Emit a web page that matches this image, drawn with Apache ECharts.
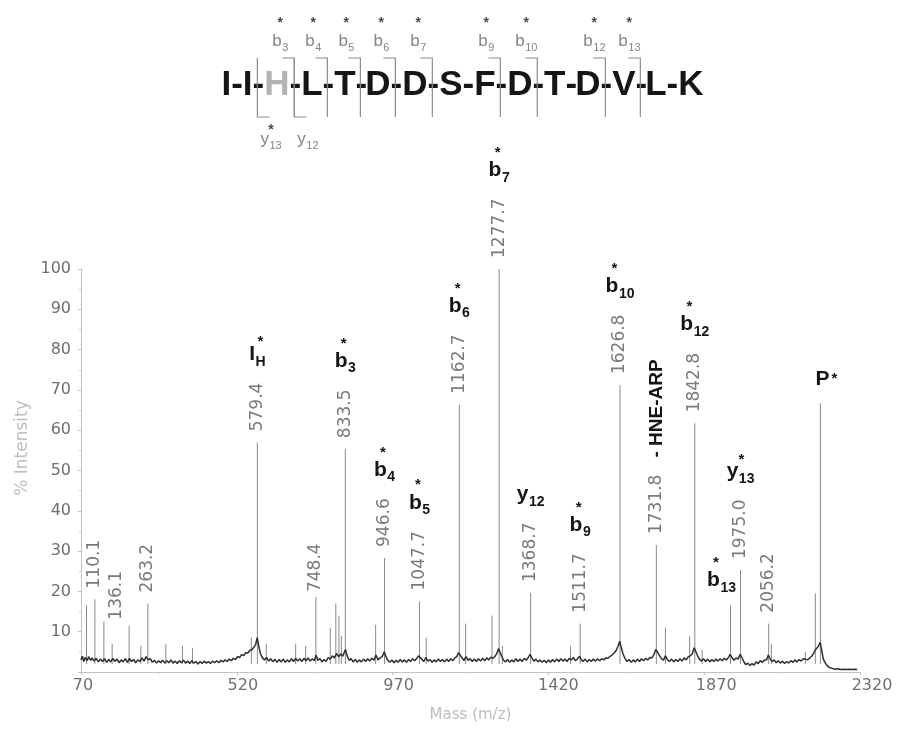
<!DOCTYPE html>
<html>
<head>
<meta charset="utf-8">
<script src="https://cdn.jsdelivr.net/npm/echarts@6/dist/echarts.min.js"></script>
<style>
html,body{margin:0;padding:0;background:#ffffff;}
#chart{width:899px;height:730px;}
</style>
</head>
<body>
<div id="chart"></div>
<script>
// ---------------- data ----------------
const massTicks = [70, 520, 970, 1420, 1870, 2320];
const intensityTicks = [0, 10, 20, 30, 40, 50, 60, 70, 80, 90, 100];

// peptide sequence and observed fragment ions
const sequence = ['I','I','H','L','T','D','D','S','F','D','T','D','V','L','K'];
const modifiedResidue = 3;            // H (HNE-modified), shown in grey
const bIonSites = [3, 4, 5, 6, 7, 9, 10, 12, 13];
const yIonSites = [13, 12];
const yIonModified = [true, false];

// baseline / noise trace [m/z, % intensity]
const baselineTrace = [
[70,3.0],[74,3.9],[78,2.6],[82,3.6],[88,2.8],[92,3.8],[98,2.9],[102,3.5],[108,2.7],[114,3.4],
[120,2.5],[126,3.2],[132,2.6],[138,3.3],[144,2.4],[150,3.1],[156,2.5],[162,3.4],[168,2.6],[174,3.2],
[180,2.3],[186,3.0],[192,2.5],[198,3.3],[204,2.4],[210,3.4],[216,2.6],[222,3.1],[228,2.3],[234,3.0],
[240,2.6],[246,3.5],[252,2.7],[258,3.8],[264,3.0],[270,3.3],[276,2.4],[282,2.9],[288,2.2],[294,2.8],
[300,2.3],[306,2.9],[312,2.2],[318,2.8],[324,2.3],[330,3.0],[336,2.2],[342,2.7],[348,2.1],[354,2.8],
[360,2.3],[366,2.9],[372,2.2],[378,2.7],[384,2.1],[390,2.8],[396,2.2],[402,2.6],[408,2.0],[414,2.6],
[420,2.1],[426,2.7],[432,2.2],[438,2.6],[444,2.1],[450,2.7],[456,2.3],[462,2.8],[468,2.3],[474,2.9],
[480,2.5],[486,3.0],[492,2.6],[498,3.2],[504,2.8],[510,3.4],[516,3.1],[522,3.8],[528,3.6],[534,4.3],
[540,4.1],[546,4.8],[552,4.7],[558,5.4],[564,5.6],[570,6.2],[575,7.0],[579,8.5],[583,6.6],[588,4.6],
[594,3.5],[600,3.0],[606,3.6],[612,2.7],[618,3.3],[624,2.5],[630,3.2],[636,2.4],[642,3.1],[648,2.5],
[654,3.2],[660,2.4],[666,3.0],[672,2.5],[678,3.3],[684,2.6],[690,3.4],[696,2.7],[702,3.3],[708,2.6],
[714,3.4],[720,2.8],[726,3.5],[732,2.7],[738,3.3],[744,2.8],[749,4.2],[754,2.9],[760,3.3],[766,2.5],
[772,3.1],[778,2.6],[784,3.6],[790,3.2],[796,4.0],[802,3.5],[808,4.6],[814,3.8],[820,4.5],[826,3.9],
[830,4.8],[834,5.6],[838,4.2],[844,2.9],[850,3.3],[856,2.5],[862,3.1],[868,2.4],[874,3.0],[880,2.5],
[886,3.2],[892,2.6],[898,3.3],[904,2.7],[910,3.4],[916,2.9],[922,4.2],[928,3.0],[934,3.5],[940,3.8],
[946,5.0],[950,4.0],[956,2.9],[962,2.4],[968,3.0],[974,2.3],[980,2.9],[986,2.4],[992,3.1],[998,2.5],
[1004,3.0],[1010,2.4],[1016,3.1],[1022,2.6],[1028,3.3],[1034,2.8],[1040,3.4],[1045,4.0],[1049,4.4],[1054,3.2],
[1060,2.6],[1066,3.6],[1072,2.7],[1078,3.1],[1084,2.4],[1090,3.0],[1096,2.5],[1102,3.2],[1108,2.6],[1114,3.1],
[1120,2.5],[1126,3.2],[1132,2.6],[1138,3.3],[1144,2.8],[1150,3.5],[1156,3.9],[1160,4.8],[1165,5.0],[1170,3.6],
[1176,2.8],[1182,3.8],[1188,2.9],[1194,3.3],[1200,2.6],[1206,3.2],[1212,2.6],[1218,3.3],[1224,2.7],[1230,3.4],
[1236,2.8],[1242,3.5],[1248,3.0],[1254,3.7],[1260,3.4],[1266,3.9],[1271,4.6],[1276,5.8],[1280,5.4],[1285,3.9],
[1290,3.0],[1296,2.5],[1302,3.1],[1308,2.4],[1314,3.0],[1320,2.5],[1326,3.3],[1332,2.6],[1338,3.2],[1344,2.6],
[1350,3.4],[1356,2.9],[1362,3.6],[1367,4.4],[1372,3.5],[1378,2.7],[1384,3.2],[1390,2.5],[1396,3.0],[1402,2.4],
[1408,2.9],[1414,2.3],[1420,3.0],[1426,2.4],[1432,3.1],[1438,2.5],[1444,3.2],[1450,2.6],[1456,3.3],[1462,2.7],
[1468,3.2],[1474,2.6],[1480,3.4],[1486,3.0],[1492,3.6],[1498,2.8],[1504,3.3],[1510,3.9],[1515,3.1],[1520,2.6],
[1526,3.2],[1532,2.5],[1538,3.1],[1544,2.6],[1550,3.2],[1556,2.7],[1562,3.3],[1568,2.8],[1574,3.3],[1580,3.0],
[1586,3.5],[1592,3.4],[1598,3.9],[1604,4.2],[1610,4.7],[1616,5.4],[1621,6.4],[1626,7.6],[1630,6.2],[1635,4.6],
[1641,3.4],[1647,2.6],[1653,3.1],[1659,2.4],[1665,3.0],[1671,2.5],[1677,3.2],[1683,2.6],[1689,3.3],[1695,2.8],
[1701,3.4],[1707,3.0],[1713,3.6],[1719,3.5],[1725,4.4],[1730,5.6],[1735,5.0],[1740,4.2],[1746,3.4],[1752,2.9],
[1758,4.0],[1764,3.0],[1770,2.6],[1776,3.2],[1782,2.5],[1788,3.1],[1794,2.6],[1800,3.3],[1806,2.7],[1812,3.5],
[1818,3.0],[1824,3.8],[1830,4.0],[1836,4.6],[1841,6.0],[1845,5.8],[1850,4.2],[1856,3.2],[1862,2.7],[1868,3.3],
[1874,2.6],[1880,3.2],[1886,2.5],[1892,3.1],[1898,2.6],[1904,3.2],[1910,2.7],[1916,3.3],[1922,2.8],[1928,3.4],
[1934,3.0],[1940,3.6],[1945,4.4],[1950,3.6],[1956,2.9],[1962,3.5],[1968,3.2],[1974,4.4],[1979,3.6],[1984,2.6],
[1990,1.8],[1996,2.2],[2002,1.6],[2008,2.1],[2014,1.7],[2020,2.5],[2026,2.1],[2032,2.8],[2038,2.4],[2044,3.0],
[2050,3.0],[2055,4.2],[2060,3.4],[2066,2.6],[2072,3.0],[2078,2.3],[2084,2.8],[2090,2.2],[2096,2.7],[2102,2.1],
[2108,2.6],[2114,2.2],[2120,2.8],[2126,2.4],[2132,3.0],[2138,2.5],[2144,3.1],[2150,2.7],[2156,3.3],[2162,3.2],
[2168,3.0],[2174,3.4],[2180,3.9],[2186,4.6],[2190,5.4],[2195,5.8],[2200,6.4],[2205,7.4],[2209,5.6],[2214,3.2],
[2220,2.2],[2226,1.5],[2232,1.1],[2240,0.9],[2248,0.7],[2256,0.8],[2264,0.6],[2272,0.7],[2280,0.6],[2288,0.7],
[2296,0.6],[2304,0.7],[2312,0.6]
];

// peak centroids
const peakMass = [86, 110.1, 136.1, 160, 209, 243, 263.2, 315, 363, 392, 562, 579.4, 605, 690, 719, 748.4,
  790, 806, 815, 822, 833.5, 921, 946.6, 1047.7, 1067, 1162.7, 1181, 1257, 1277.7, 1287, 1368.7, 1484,
  1511.7, 1626.8, 1731.8, 1758, 1828, 1842.8, 1864, 1946, 1975.0, 2056.2, 2064, 2162, 2191, 2205.7];
const peakIntensity = [16.5, 18, 12.5, 7, 11.5, 6.5, 17, 7, 6.5, 6, 8.5, 57, 7, 7, 6.5, 18.6,
  11, 17, 14, 9, 55.3, 11.7, 28.3, 17.5, 8.5, 66.3, 12, 14, 100, 6.5, 19.6, 6.5,
  12, 71.2, 31.5, 11, 9, 61.7, 5.5, 16.5, 25.3, 12, 7, 5, 19.5, 66.7];

// m/z labels printed on peaks
const labelMass = [110.1, 136.1, 263.2, 579.4, 748.4, 833.5, 946.6, 1047.7, 1162.7, 1277.7,
  1368.7, 1511.7, 1626.8, 1731.8, 1842.8, 1975.0, 2056.2];
const labelNote = { 1731.8: 'HNE-ARP' };

// ion assignments
const ionMass = [579.4, 833.5, 946.6, 1047.7, 1162.7, 1277.7, 1368.7, 1511.7, 1626.8, 1842.8, 1946, 1975.0, 2205.7];
const ionMain = ['I', 'b', 'b', 'b', 'b', 'b', 'y', 'b', 'b', 'b', 'b', 'y', 'P'];
const ionSub  = ['H', '3', '4', '5', '6', '7', '12', '9', '10', '12', '13', '13', ''];
const ionStar = [true, true, true, true, true, true, false, true, true, true, true, true, true];

// ---------------- layout helpers (not data) ----------------
const labelLayout = { 136.1: { dx: 13, gap: 2 }, 748.4: { gap: 5 } };
const ionLayout = { 1946: { dx: -9, gap: 18 }, 2205.7: { dx: 2, gap: 17 } };

const SANS = '"DejaVu Sans", sans-serif';
const ARIAL = '"Liberation Sans", Arial, sans-serif';
const measureCtx = document.createElement('canvas').getContext('2d');
function tw(str, font) { measureCtx.font = font; return measureCtx.measureText(str).width; }
const MID = 0.3465; // canvas 'middle' offset above alphabetic baseline, in em

function textEl(x, baseline, str, size, font, fill, align) {
  return { type: 'text', x: x, y: baseline - MID * size, silent: true,
    style: { text: str, font: font, fill: fill, align: align || 'left', textAlign: align || 'left',
             verticalAlign: 'middle', textVerticalAlign: 'middle' } };
}
function starEl(xc, yc, size, fill) {
  const base = yc + 0.57 * size;
  return textEl(xc, base, '*', size, 'bold ' + size + 'px ' + ARIAL, fill, 'center');
}
function findIdx(arr, m) { for (let i = 0; i < arr.length; i++) if (Math.abs(arr[i] - m) < 0.05) return i; return -1; }

const MASS_FS = 17, MASS_FONT = MASS_FS + 'px ' + SANS;
const ION_FS = 21, ION_FONT = 'bold ' + ION_FS + 'px ' + ARIAL;
const SUB_FS = 14, SUB_FONT = 'bold ' + SUB_FS + 'px ' + ARIAL;

function ionChildren(k, cx, B) {
  const els = [];
  const main = ionMain[k], sub = ionSub[k];
  if (main === 'P') {
    const w = tw('P', ION_FONT);
    els.push(textEl(cx - w / 2, B, 'P', ION_FS, ION_FONT, '#151515', 'left'));
    if (ionStar[k]) els.push(starEl(cx + w / 2 + 5, B - 11, 15, '#151515'));
    return els;
  }
  const wm = tw(main, ION_FONT), ws = tw(sub, SUB_FONT);
  const left = cx - (wm + ws + 0.5) / 2;
  els.push(textEl(left, B, main, ION_FS, ION_FONT, '#151515', 'left'));
  els.push(textEl(left + wm + 0.5, B + 5, sub, SUB_FS, SUB_FONT, '#151515', 'left'));
  if (ionStar[k]) {
    let sx, sy;
    if (main === 'b') { sx = left + wm * 0.7; sy = B - 28; }
    else if (main === 'I') { sx = left + wm + 0.5 + ws / 2; sy = B - 23; }
    else { sx = left + wm + 3; sy = B - 22; }
    els.push(starEl(sx, sy, 15, '#151515'));
  }
  return els;
}

// ---------------- series data built from the arrays ----------------
const baselineData = baselineTrace.map(p => [p[0], p[1]]);
const stickData = peakMass.map((m, i) => [m, peakIntensity[i]]);
const annotMasses = Array.from(new Set(labelMass.concat(ionMass))).sort((a, b) => a - b);
const annotData = annotMasses.map(m => [m, peakIntensity[findIdx(peakMass, m)]]);

const STICK_BASE = 2;

function renderStick(params, api) {
  const top = api.coord([api.value(0), api.value(1)]);
  const base = api.coord([api.value(0), STICK_BASE]);
  return { type: 'line', silent: true,
    shape: { x1: top[0], y1: base[1], x2: top[0], y2: top[1] },
    style: { stroke: '#8a8a8a', lineWidth: 1 } };
}

function renderAnnot(params, api) {
  const m = api.value(0), h = api.value(1);
  const p = api.coord([m, h]);
  const children = [];
  const li = findIdx(labelMass, m);
  let topY = p[1];
  let hasLabel = false;
  if (li >= 0) {
    hasLabel = true;
    const lay = labelLayout[labelMass[li]] || {};
    const gap = lay.gap != null ? lay.gap : 11;
    const x = p[0] + (lay.dx || 0);
    const y0 = p[1] - gap;
    const txt = labelMass[li].toFixed(1);
    const L1 = tw(txt, MASS_FONT);
    children.push({ type: 'text', x: x, y: y0, rotation: Math.PI / 2, silent: true,
      style: { text: txt, font: MASS_FONT, fill: '#7a7a7a', align: 'left', textAlign: 'left',
               verticalAlign: 'middle', textVerticalAlign: 'middle' } });
    topY = y0 - L1;
    const note = labelNote[labelMass[li]];
    if (note) {
      const nf = 'bold 19px ' + ARIAL;
      children.push({ type: 'text', x: x, y: y0 - L1 - 17, rotation: Math.PI / 2, silent: true,
        style: { text: '- ' + note, font: nf, fill: '#151515', align: 'left', textAlign: 'left',
                 verticalAlign: 'middle', textVerticalAlign: 'middle' } });
      topY = y0 - L1 - 17 - tw('- ' + note, nf);
    }
  }
  const ki = findIdx(ionMass, m);
  if (ki >= 0) {
    const lay = ionLayout[ionMass[ki]] || {};
    const cx = p[0] + (lay.dx || 0);
    let B;
    if (hasLabel) B = topY - 21;
    else B = p[1] - (lay.gap != null ? lay.gap : 18);
    ionChildren(ki, cx, B).forEach(c => children.push(c));
  }
  return { type: 'group', children: children };
}

// ---------------- peptide map (graphic) ----------------
const graphics = [];
const SEQ_FS = 35, SEQ_FONT = 'bold ' + SEQ_FS + 'px ' + ARIAL;
const seqStr = sequence.join('-');
const seqW = tw(seqStr, SEQ_FONT);
const seqX0 = 462.5 - seqW / 2;
const SEQ_BASE = 97;
for (let i = 0; i < seqStr.length; i++) {
  const x = seqX0 + tw(seqStr.slice(0, i), SEQ_FONT);
  const isMod = (i === 2 * (modifiedResidue - 1));
  graphics.push(textEl(x, SEQ_BASE, seqStr[i], SEQ_FS, SEQ_FONT, isMod ? '#b3b3b3' : '#161616', 'left'));
}
function cutX(k) { // x of the cleavage after residue k (1-based)
  const idx = 2 * k - 1;
  return seqX0 + tw(seqStr.slice(0, idx), SEQ_FONT) + tw('-', SEQ_FONT) / 2 - 1;
}
const BR_TOP = 58, BR_BOT = 117, BR_ARM = 12;
const brStyle = { stroke: '#8c8c8c', lineWidth: 1.2, fill: null };
const SMALL_FONT = '17px ' + ARIAL, SMALL_SUB = '11px ' + ARIAL;
bIonSites.forEach(k => {
  const v = cutX(k);
  graphics.push({ type: 'polyline', silent: true, shape: { points: [[v - BR_ARM, BR_TOP], [v, BR_TOP], [v, BR_BOT]] }, style: brStyle });
  const left = v - 22;
  const wb = tw('b', SMALL_FONT), wsub = tw(String(k), SMALL_SUB);
  graphics.push(textEl(left, 47, 'b', 17, SMALL_FONT, '#868686', 'left'));
  graphics.push(textEl(left + wb + 0.5, 52, String(k), 11, SMALL_SUB, '#868686', 'left'));
  graphics.push(starEl(left + (wb + wsub) / 2, 20, 14, '#4a4a4a'));
});
yIonSites.forEach((n, j) => {
  const v = cutX(sequence.length - n);
  graphics.push({ type: 'polyline', silent: true, shape: { points: [[v, BR_TOP], [v, BR_BOT], [v + BR_ARM, BR_BOT]] }, style: brStyle });
  const left = v + 3;
  const wy = tw('y', SMALL_FONT);
  graphics.push(textEl(left, 145, 'y', 17, SMALL_FONT, '#868686', 'left'));
  graphics.push(textEl(left + wy + 0.5, 150, String(n), 11, SMALL_SUB, '#868686', 'left'));
  if (yIonModified[j]) graphics.push(starEl(left + wy + 2, 127, 14, '#4a4a4a'));
});
// y-axis title
graphics.push({ type: 'text', x: 23, y: 448, rotation: Math.PI / 2, silent: true,
  style: { text: '% Intensity', font: '17px ' + SANS, fill: '#bdbdbd', align: 'center', textAlign: 'center',
           verticalAlign: 'middle', textVerticalAlign: 'middle' } });

// x tick label nudges (reference labels sit slightly right of their ticks)
const xLabelShift = [2, 6, 6, 10, 12, 12];
const xRich = {};
xLabelShift.forEach((s, i) => { xRich['o' + i] = { padding: [0, 0, 0, 2 * s], color: '#707070', fontSize: 16, fontFamily: 'DejaVu Sans' }; });

const chart = echarts.init(document.getElementById('chart'), null, { renderer: 'canvas' });
const option = {
  animation: false,
  backgroundColor: '#ffffff',
  grid: { left: 81, right: 39, top: 269, bottom: 58, containLabel: false, outerBoundsMode: 'none' },
  xAxis: {
    type: 'value',
    min: massTicks[0], max: massTicks[massTicks.length - 1], interval: massTicks[1] - massTicks[0],
    axisLine: { show: true, onZero: false, lineStyle: { color: '#c2c2c2', width: 1 } },
    axisTick: { show: true, length: 3, lineStyle: { color: '#c2c2c2' } },
    minorTick: { show: true, splitNumber: 2, length: 2, lineStyle: { color: '#cccccc' } },
    splitLine: { show: false }, minorSplitLine: { show: false },
    axisLabel: {
      margin: 6, color: '#707070', fontSize: 16, fontFamily: 'DejaVu Sans',
      formatter: function (v) { const i = massTicks.indexOf(v); return '{o' + (i < 0 ? 0 : i) + '|' + v + '}'; },
      rich: xRich
    },
    name: 'Mass (m/z)', nameLocation: 'middle', nameGap: 36,
    nameTextStyle: { color: '#bdbdbd', fontSize: 15, fontFamily: 'DejaVu Sans' }
  },
  yAxis: {
    type: 'value',
    min: intensityTicks[0], max: intensityTicks[intensityTicks.length - 1], interval: intensityTicks[1] - intensityTicks[0],
    axisLine: { show: true, lineStyle: { color: '#c2c2c2', width: 1 } },
    axisTick: { show: true, length: 3, lineStyle: { color: '#c2c2c2' } },
    minorTick: { show: true, splitNumber: 2, length: 2, lineStyle: { color: '#cccccc' } },
    splitLine: { show: false }, minorSplitLine: { show: false },
    axisLabel: { margin: 10, color: '#6e6e6e', fontSize: 16, fontFamily: 'DejaVu Sans',
      formatter: function (v) { return v === 0 ? '' : String(v); } }
  },
  series: [
    { type: 'custom', name: 'peaks', data: stickData, renderItem: renderStick, clip: false, silent: true, z: 2,
      encode: { x: 0, y: 1 } },
    { type: 'line', name: 'trace', data: baselineData, symbol: 'none', showSymbol: false, silent: true, z: 3,
      lineStyle: { color: '#2f2f2f', width: 1.5 } },
    { type: 'custom', name: 'labels', data: annotData, renderItem: renderAnnot, clip: false, silent: true, z: 5,
      encode: { x: 0, y: 1 } }
  ],
  graphic: { elements: graphics }
};
chart.setOption(option);
</script>
</body>
</html>
